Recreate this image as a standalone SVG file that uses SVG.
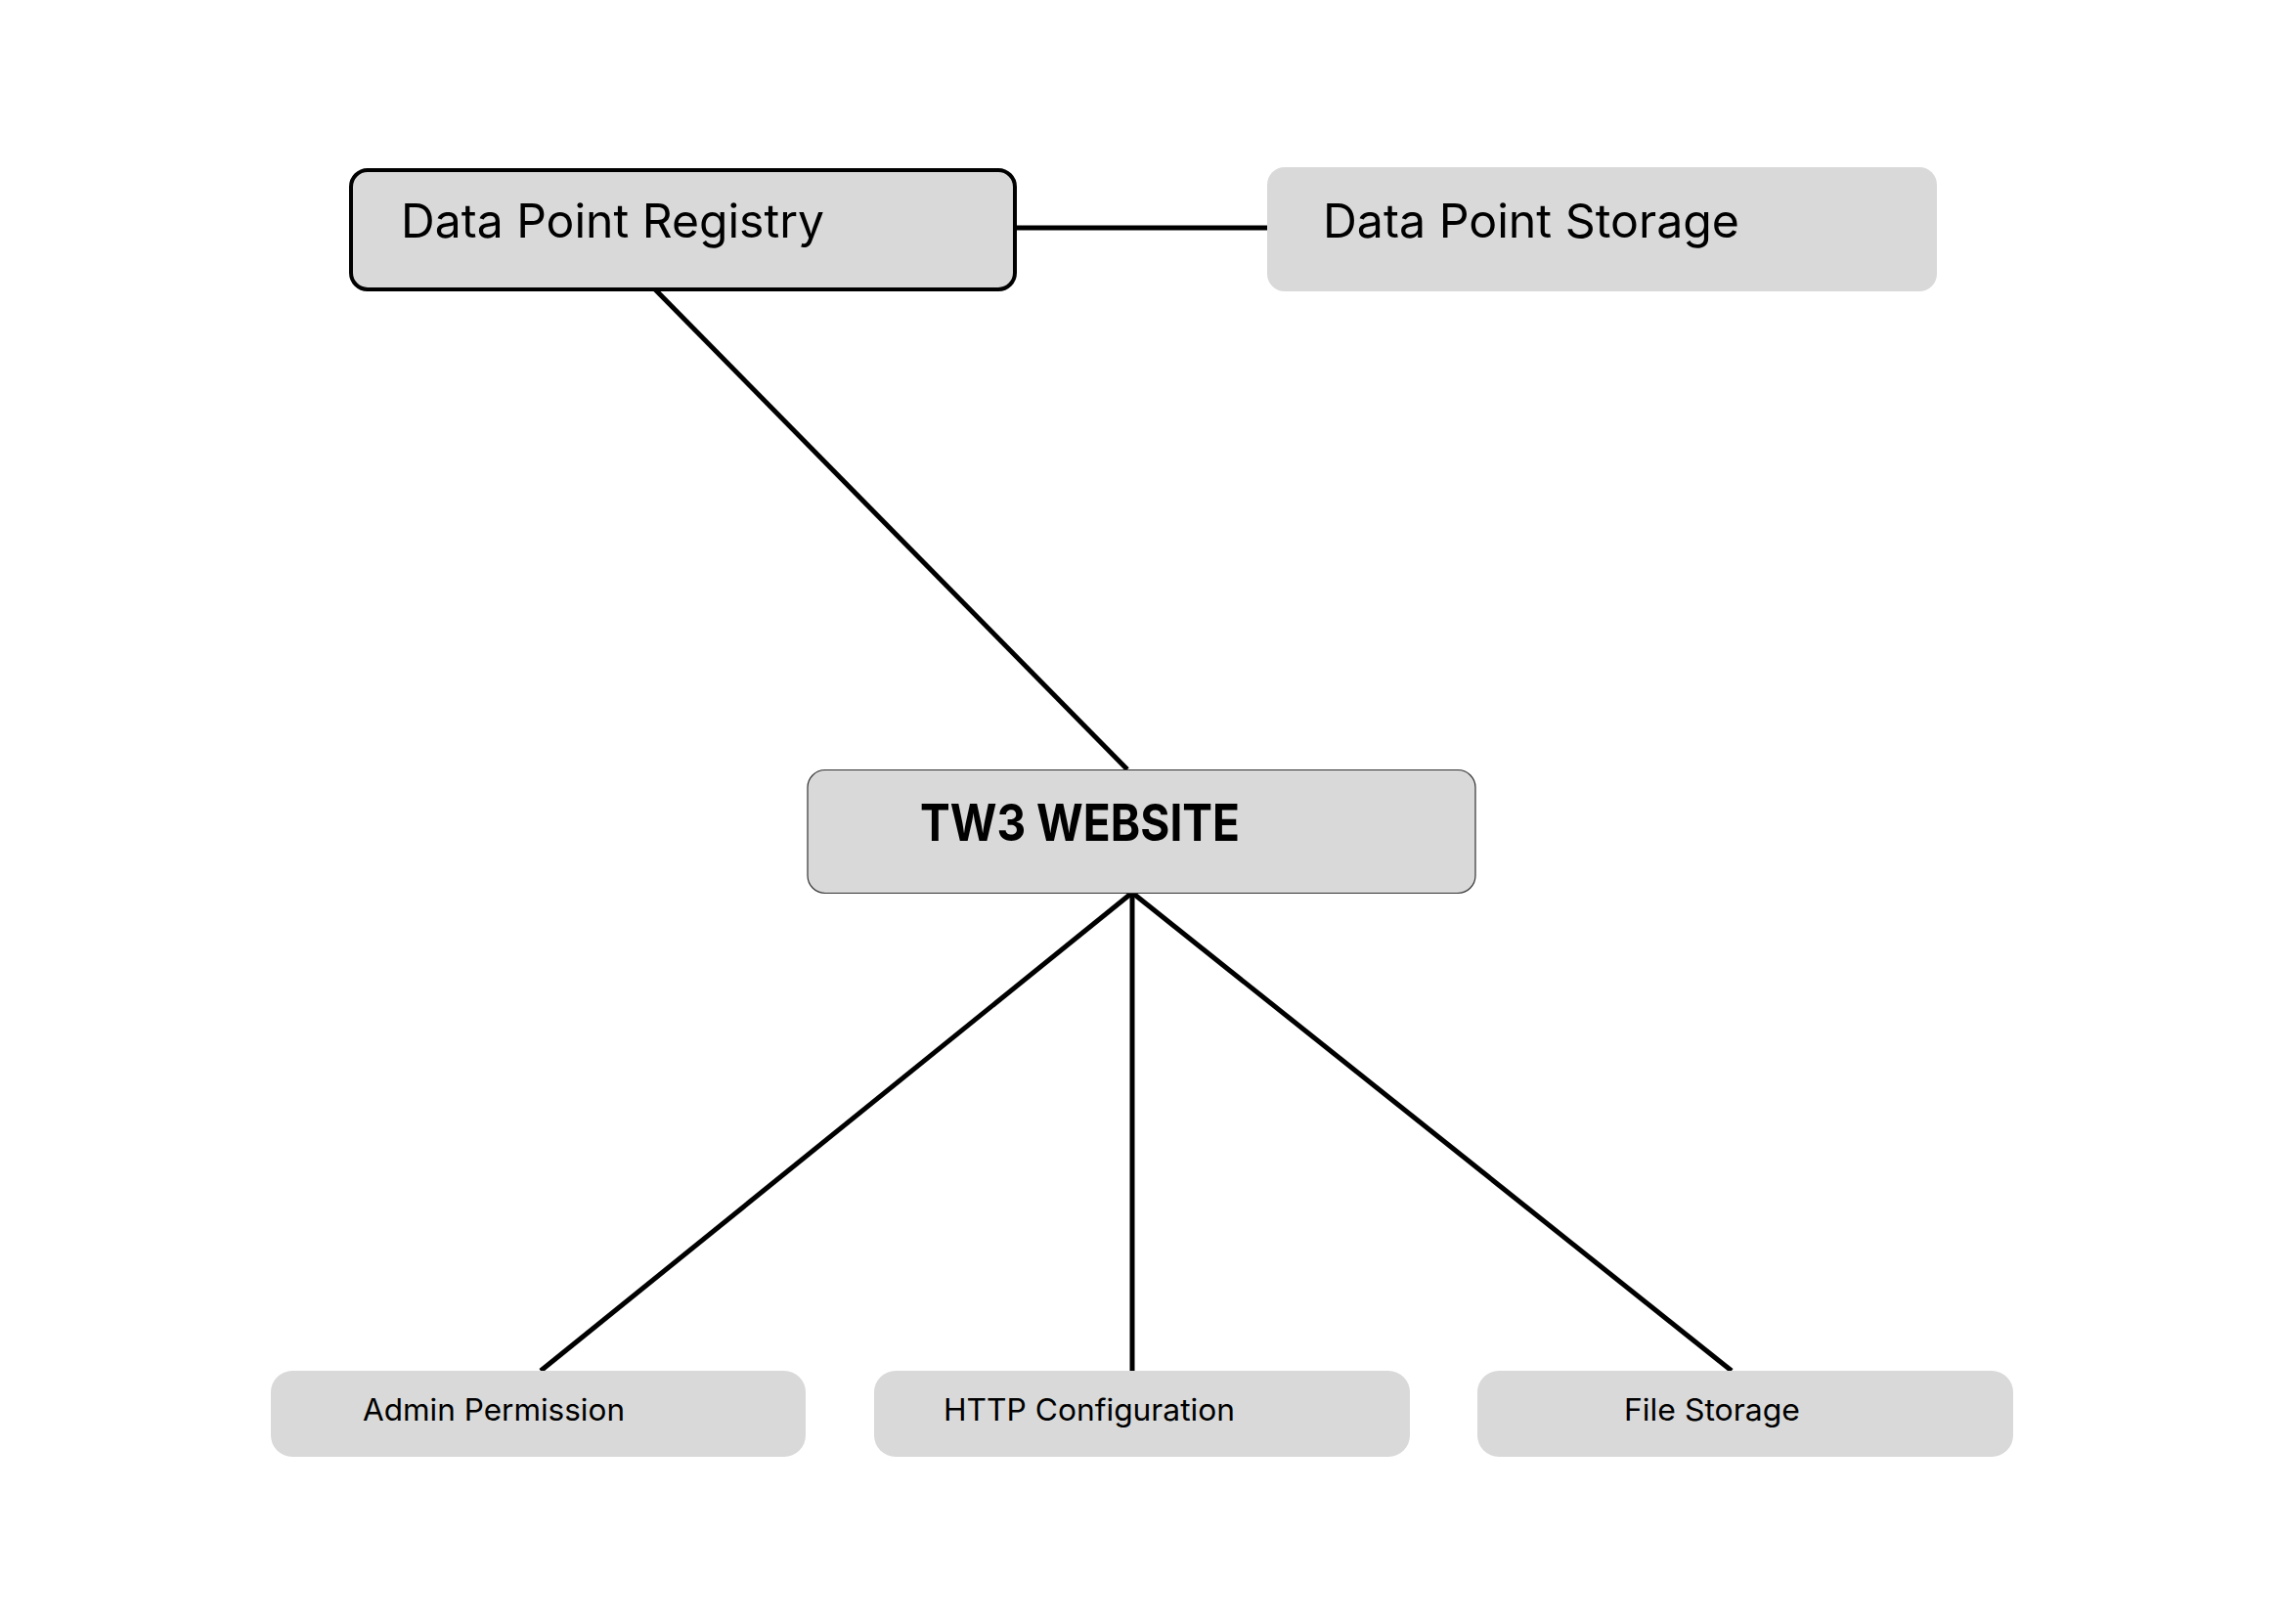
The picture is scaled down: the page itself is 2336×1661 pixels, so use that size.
<svg xmlns="http://www.w3.org/2000/svg" width="2336" height="1661" viewBox="0 0 2336 1661">
<style>
.box{fill:#d9d9d9}
.lbl{font-family:Inter,"Noto Sans","Liberation Sans",sans-serif;fill:#000}
.big{font-size:48px}
.bold{font-size:52px;font-weight:700}
.small{font-size:31px}
.edge{stroke:#000;stroke-width:5;fill:none}
</style>
<rect width="2336" height="1661" fill="#fff"/>
<g id="connectors">
<line class="edge" x1="1038" y1="233" x2="1296" y2="233"/>
<line class="edge" x1="670" y1="296" x2="1153" y2="787"/>
<line class="edge" x1="1158" y1="913" x2="553" y2="1402"/>
<line class="edge" x1="1158" y1="913" x2="1158" y2="1402"/>
<line class="edge" x1="1158" y1="913" x2="1771" y2="1402"/>
</g>
<g id="data-point-registry">
<rect class="box" x="359" y="174" width="679" height="122" rx="17" stroke="#000" stroke-width="4"/>
<text class="lbl big" x="410" y="243" textLength="433" lengthAdjust="spacingAndGlyphs">Data Point Registry</text>
</g>
<g id="data-point-storage">
<rect class="box" x="1296" y="171" width="685" height="127" rx="18"/>
<text class="lbl big" x="1353" y="243" textLength="426" lengthAdjust="spacingAndGlyphs">Data Point Storage</text>
</g>
<g id="tw3-website">
<rect class="box" x="826" y="787.5" width="683" height="126" rx="18" stroke="#333" stroke-width="1.2"/>
<text class="lbl bold" x="941" y="860" textLength="327" lengthAdjust="spacingAndGlyphs">TW3 WEBSITE</text>
</g>
<g id="admin-permission">
<rect class="box" x="277" y="1402" width="547" height="88" rx="22"/>
<text class="lbl small" x="371" y="1453" textLength="268" lengthAdjust="spacingAndGlyphs">Admin Permission</text>
</g>
<g id="http-configuration">
<rect class="box" x="894" y="1402" width="548" height="88" rx="22"/>
<text class="lbl small" x="965" y="1453" textLength="298" lengthAdjust="spacingAndGlyphs">HTTP Configuration</text>
</g>
<g id="file-storage">
<rect class="box" x="1511" y="1402" width="548" height="88" rx="22"/>
<text class="lbl small" x="1661" y="1453" textLength="180" lengthAdjust="spacingAndGlyphs">File Storage</text>
</g>
</svg>
